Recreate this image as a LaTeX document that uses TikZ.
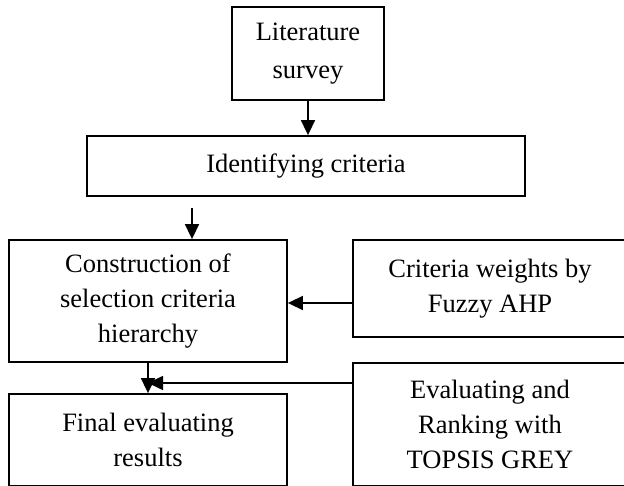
\documentclass[tikz,border=0pt]{standalone}
\usepackage{fontspec}
\setmainfont{Liberation Serif}
\usetikzlibrary{arrows.meta}
\begin{document}
\begin{tikzpicture}[x=1pt,y=-1pt,
  box/.style={draw, line width=1.8pt, rectangle, inner sep=0pt, align=center,
    font=\fontsize{26.5}{35}\selectfont},
  arr/.style={line width=1.6pt, -{Triangle[length=15pt,width=14pt]}}]
\clip (0,0) rectangle (624,486);
\node[box, minimum width=152pt, minimum height=93pt, font=\fontsize{26.5}{38}\selectfont] (lit) at (308,53.5) {Literature\\survey};
\node[box, minimum width=438pt, minimum height=60pt] (ident) at (306,166) {Identifying criteria};
\node[box, minimum width=278pt, minimum height=122pt] (cons) at (148,301) {Construction of\\selection criteria\\hierarchy};
\node[box, minimum width=274pt, minimum height=97pt] (fuzzy) at (490,288.5) {Criteria weights by\\Fuzzy AHP};
\node[box, minimum width=274pt, minimum height=122.5pt] (topsis) at (490,424.25) {Evaluating and\\Ranking with\\TOPSIS GREY};
\node[box, minimum width=278pt, minimum height=91.5pt] (final) at (148,439.75) {Final evaluating\\results};
\coordinate (fa) at (192,208);
\coordinate (fy) at (0,303);
\coordinate (ty) at (0,383);
\draw[arr] (lit.south) -- (lit.south |- ident.north);
\draw[arr] (fa) -- (fa |- cons.north);
\draw[arr] (fuzzy.west |- fy) -- (cons.east |- fy);
\draw[arr] (cons.south) -- (final.north);
\draw[arr] (topsis.west |- ty) -- (cons.south |- ty);
\end{tikzpicture}
\end{document}
